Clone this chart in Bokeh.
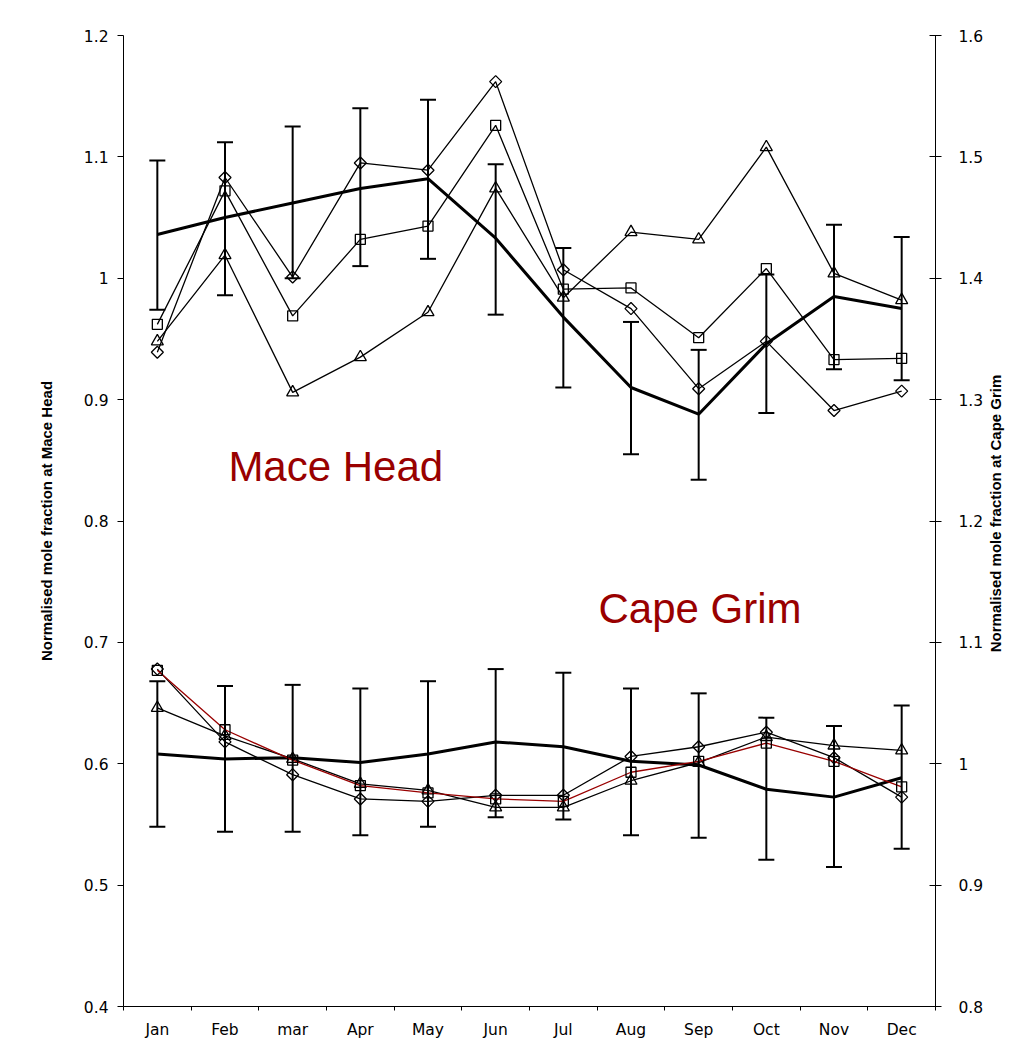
import math
import numpy as np
from bokeh.plotting import figure
from bokeh.models import (ColumnDataSource, Range1d, LinearAxis, FixedTicker,
                          CustomJSTickFormatter, Whisker, TeeHead, Label)
from bokeh.embed import file_html
from bokeh.resources import INLINE

# ---------------- data ----------------
months = ["Jan", "Feb", "mar", "Apr", "May", "Jun", "Jul", "Aug", "Sep", "Oct", "Nov", "Dec"]

left_ticks = [0.4, 0.5, 0.6, 0.7, 0.8, 0.9, 1.0, 1.1, 1.2]
right_ticks = [0.8, 0.9, 1.0, 1.1, 1.2, 1.3, 1.4, 1.5, 1.6]

# Mace Head (left axis)
mh_mean = [1.036, 1.050, 1.062, 1.074, 1.082, 1.033, 0.968, 0.910, 0.888, 0.946, 0.985, 0.975]
mh_upper = [1.097, 1.112, 1.125, 1.140, 1.147, 1.094, 1.025, 0.964, 0.941, 1.003, 1.044, 1.034]
mh_lower = [0.974, 0.986, 1.000, 1.010, 1.016, 0.970, 0.910, 0.855, 0.834, 0.889, 0.925, 0.916]
mh_diamond = [0.939, 1.083, 1.001, 1.095, 1.089, 1.162, 1.007, 0.975, 0.909, 0.948, 0.891, 0.907]
mh_square = [0.962, 1.072, 0.969, 1.032, 1.043, 1.126, 0.991, 0.992, 0.951, 1.008, 0.933, 0.934]
mh_triangle = [0.948, 1.019, 0.906, 0.935, 0.972, 1.074, 0.984, 1.038, 1.032, 1.108, 1.004, 0.982]

# Cape Grim (right axis)
cg_mean = [1.008, 1.004, 1.005, 1.001, 1.008, 1.018, 1.014, 1.002, 0.999, 0.979, 0.9725, 0.9885]
cg_upper = [1.068, 1.064, 1.065, 1.062, 1.068, 1.078, 1.075, 1.062, 1.058, 1.038, 1.031, 1.048]
cg_lower = [0.948, 0.944, 0.944, 0.941, 0.948, 0.956, 0.954, 0.941, 0.939, 0.921, 0.915, 0.930]
cg_diamond = [1.078, 1.018, 0.991, 0.971, 0.969, 0.974, 0.974, 1.006, 1.014, 1.026, 1.005, 0.9725]
cg_square = [1.077, 1.028, 1.003, 0.982, 0.976, 0.971, 0.969, 0.993, 1.002, 1.017, 1.002, 0.981]
cg_triangle = [1.046, 1.023, 1.004, 0.9835, 0.978, 0.964, 0.964, 0.986, 1.001, 1.022, 1.015, 1.011]

left_title = "Normalised mole fraction at Mace Head"
right_title = "Normalised mole fraction at Cape Grim"

# ---------------- figure ----------------
xs = np.arange(len(months)) + 0.5
bounds = list(np.arange(len(months) + 1).astype(float))

DARKRED = "#990000"
TICKFONT = "DejaVu Sans"

p = figure(width=1020, height=1051, output_backend="svg", toolbar_location=None,
           x_range=Range1d(0, len(months)), y_range=Range1d(left_ticks[0], left_ticks[-1]),
           x_axis_location=None, y_axis_location=None,
           min_border_left=123, min_border_right=85, min_border_top=35, min_border_bottom=45)
p.extra_y_ranges = {"cg": Range1d(right_ticks[0], right_ticks[-1])}
p.outline_line_color = None
p.grid.visible = False
p.background_fill_color = "white"

num_fmt = CustomJSTickFormatter(code="return String(Math.round(tick * 10) / 10)")

xaxis = LinearAxis(
    ticker=FixedTicker(ticks=list(xs), minor_ticks=bounds),
    formatter=CustomJSTickFormatter(args=dict(months=months),
                                    code="return months[Math.round(tick - 0.5)]"),
    major_tick_in=0, major_tick_out=0, minor_tick_in=0, minor_tick_out=4,
    major_label_standoff=10,
    major_label_text_font=TICKFONT, major_label_text_font_size="15.5px",
    major_label_text_color="black", axis_line_color="black",
    minor_tick_line_color="black")
p.add_layout(xaxis, "below")

laxis = LinearAxis(
    ticker=FixedTicker(ticks=left_ticks), formatter=num_fmt,
    major_tick_in=0, major_tick_out=6, minor_tick_out=0, minor_tick_in=0,
    major_label_standoff=9,
    major_label_text_font=TICKFONT, major_label_text_font_size="15.5px",
    major_label_text_color="black", axis_line_color="black",
    axis_label=left_title,
    axis_label_text_font="Liberation Sans", axis_label_text_font_style="bold",
    axis_label_text_font_size="15px", axis_label_text_color="black",
    axis_label_standoff=26)
p.add_layout(laxis, "left")

raxis = LinearAxis(
    y_range_name="cg",
    ticker=FixedTicker(ticks=right_ticks), formatter=num_fmt,
    major_tick_in=6, major_tick_out=6, minor_tick_out=0, minor_tick_in=0,
    major_label_standoff=17,
    major_label_text_font=TICKFONT, major_label_text_font_size="15.5px",
    major_label_text_color="black", axis_line_color="black")
p.add_layout(raxis, "right")

# title-only axis on the right; rotated text reads bottom-to-top and is anchored at
# its start, so it is anchored at the bottom of the axis and padded with no-break spaces
title_kw = dict(axis_label=right_title)
if "axis_label_align" in LinearAxis.properties():
    title_kw = dict(axis_label="\u00a0" * 85 + right_title, axis_label_align="start")
rtitle = LinearAxis(
    y_range_name="cg",
    ticker=FixedTicker(ticks=[]), axis_line_color=None,
    major_tick_in=0, major_tick_out=0, minor_tick_out=0, minor_tick_in=0,
    major_label_text_font_size="0px",
    axis_label_text_font="Liberation Sans", axis_label_text_font_style="bold",
    axis_label_text_font_size="15px", axis_label_text_color="black",
    axis_label_standoff=9, axis_label_orientation=math.pi / 2, **title_kw)
p.add_layout(rtitle, "right")

mh = ColumnDataSource(dict(x=xs, mean=mh_mean, upper=mh_upper, lower=mh_lower,
                           diamond=mh_diamond, square=mh_square, triangle=mh_triangle))
cg = ColumnDataSource(dict(x=xs, mean=cg_mean, upper=cg_upper, lower=cg_lower,
                           diamond=cg_diamond, square=cg_square, triangle=cg_triangle))


def whisk(src, rng):
    kw = {} if rng is None else {"y_range_name": rng}
    w = Whisker(base="x", upper="upper", lower="lower", source=src,
                line_color="black", line_width=2,
                upper_head=TeeHead(size=16, line_color="black", line_width=2),
                lower_head=TeeHead(size=16, line_color="black", line_width=2),
                level="glyph", **kw)
    p.add_layout(w)


def series(src, rng, col, marker, line_color):
    kw = {} if rng is None else {"y_range_name": rng}
    p.line("x", col, source=src, line_color=line_color, line_width=1.3, **kw)
    if marker == "diamond":
        p.scatter("x", col, source=src, marker="square", angle=math.pi / 4, size=8.5,
                  fill_color=None, line_color="black", line_width=1.3, **kw)
    elif marker == "square":
        p.scatter("x", col, source=src, marker="square", size=10,
                  fill_color=None, line_color="black", line_width=1.3, **kw)
    else:
        p.scatter("x", col, source=src, marker="triangle", size=12,
                  fill_color=None, line_color="black", line_width=1.3, **kw)


# Mace Head
whisk(mh, None)
p.line("x", "mean", source=mh, line_color="black", line_width=3)
series(mh, None, "diamond", "diamond", "black")
series(mh, None, "square", "square", "black")
series(mh, None, "triangle", "triangle", "black")

# Cape Grim
whisk(cg, "cg")
p.line("x", "mean", source=cg, line_color="black", line_width=3, y_range_name="cg")
series(cg, "cg", "triangle", "triangle", "black")
series(cg, "cg", "diamond", "diamond", "black")
series(cg, "cg", "square", "square", DARKRED)

p.add_layout(Label(x=1.55, y=0.845, text="Mace Head", text_font="Liberation Sans",
                   text_font_size="42px", text_color=DARKRED, text_baseline="alphabetic"))
p.add_layout(Label(x=7.02, y=0.728, text="Cape Grim", text_font="Liberation Sans",
                   text_font_size="42px", text_color=DARKRED, text_baseline="alphabetic"))

open("out.html", "w").write(file_html(p, INLINE))
